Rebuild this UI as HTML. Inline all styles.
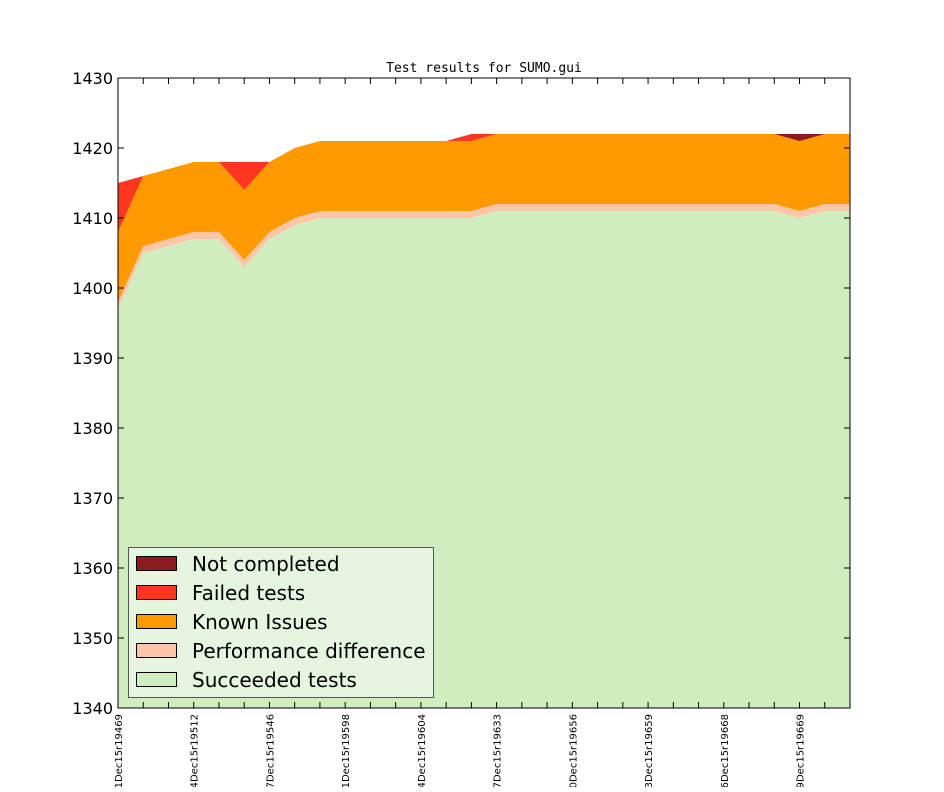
<!DOCTYPE html>
<html><head><meta charset="utf-8"><style>
body{margin:0;background:#fff;width:944px;height:787px;overflow:hidden}
svg text{font-family:"DejaVu Sans","Liberation Sans",sans-serif}
</style></head><body>
<svg id="c" width="944" height="787" xmlns="http://www.w3.org/2000/svg"></svg>
<script>
const svg=document.getElementById('c');
const X0=118,X1=850,Y=v=>708-(v-1340)*7;
const n=30,dx=(X1-X0)/29,xs=i=>X0+i*dx;
function rep(v,k){return Array(k).fill(v);}
const s=[1397,1405,1406,1407,1407,1403,1407,1409,...rep(1410,7),...rep(1411,12),1410,1411,1411];
const p=s.map(v=>v+1);
const k=[1408,1416,1417,1418,1418,1414,1418,1420,...rep(1421,7),...rep(1422,12),1421,1422,1422];
const f=[1415,1416,1417,1418,1418,1418,1418,1420,...rep(1421,6),1422,...rep(1422,12),1421,1422,1422];
const nc=f.slice();nc[27]=1422;
let h='';
function band(lo,hi,col){
 let pts=[];for(let i=0;i<n;i++)pts.push(xs(i)+','+Y(hi[i]));
 for(let i=n-1;i>=0;i--)pts.push(xs(i)+','+(lo?Y(lo[i]):708));
 h+=`<polygon points="${pts.join(' ')}" fill="${col}"/>`;
}
band(null,s,'#cfedbe');band(s,p,'#fec6a8');band(p,k,'#fe9900');band(k,f,'#fe3620');band(f,nc,'#8c1a1e');
h+=`<rect x="118" y="78" width="732" height="630" fill="none" stroke="#000" stroke-width="1"/>`;
for(let v=1340;v<=1430;v+=10){const y=Y(v);
 h+=`<line x1="118" y1="${y}" x2="124" y2="${y}" stroke="#000"/><line x1="850" y1="${y}" x2="844" y2="${y}" stroke="#000"/>`;
 h+=`<text x="113" y="${y+6}" font-size="16" text-anchor="end">${v}</text>`;}
const labs=['1Dec15r19469','4Dec15r19512','7Dec15r19546','1Dec15r19598','4Dec15r19604','7Dec15r19633','0Dec15r19656','3Dec15r19659','6Dec15r19668','9Dec15r19669'];
for(let i=0;i<n;i++){const x=xs(i);
 h+=`<line x1="${x}" y1="708" x2="${x}" y2="702" stroke="#000"/><line x1="${x}" y1="78" x2="${x}" y2="84" stroke="#000"/>`;
 if(i%3==0){h+=`<text transform="translate(${x+4},714) rotate(-90)" font-size="10" text-anchor="end">${labs[i/3]}</text>`;}}
h+=`<text x="484" y="72" font-size="13" text-anchor="middle" style="font-family:'DejaVu Sans Mono','Liberation Mono',monospace">Test results for SUMO.gui</text>`;
h+=`<rect x="128.5" y="547.5" width="305" height="150" fill="#e6f5e0" stroke="#555"/>`;
const leg=[['#8c1a1e','Not completed'],['#fe3620','Failed tests'],['#fe9900','Known Issues'],['#fec6a8','Performance difference'],['#cfedbe','Succeeded tests']];
leg.forEach((l,i)=>{const y=556+i*29;
 h+=`<rect x="136.5" y="${y+0.5}" width="40" height="14" fill="${l[0]}" stroke="#000"/>`;
 h+=`<text x="192" y="${y+15}" font-size="20">${l[1]}</text>`;});
svg.innerHTML=h;
</script>
</body></html>
